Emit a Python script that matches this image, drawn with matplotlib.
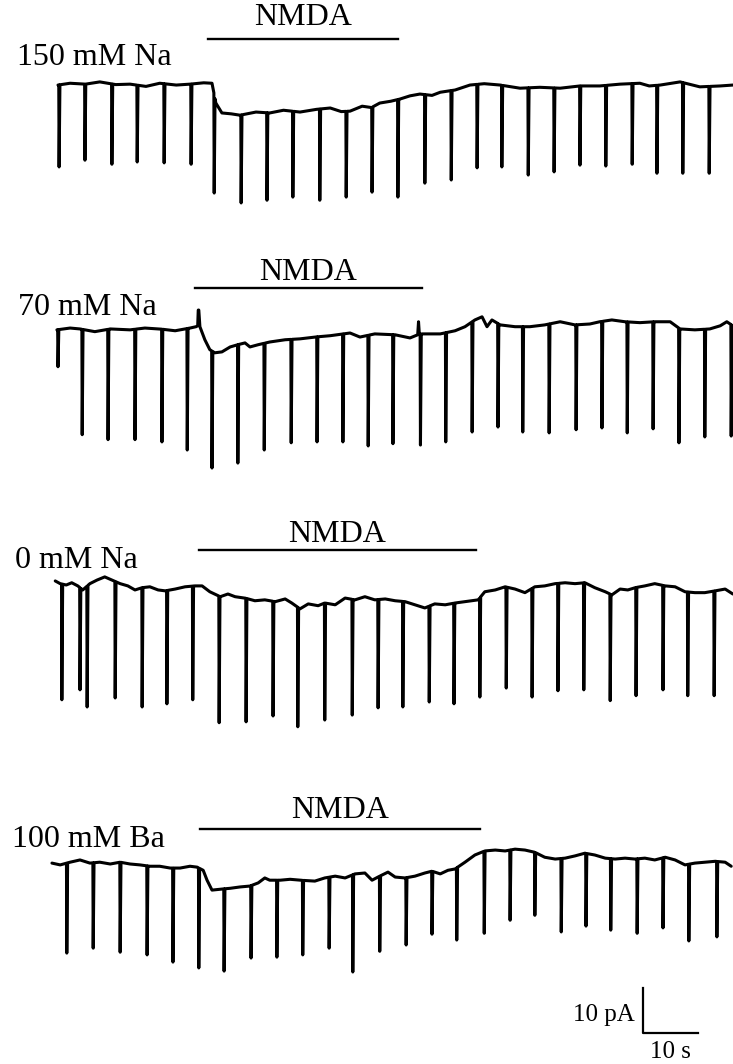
import numpy as np
import matplotlib.pyplot as plt

# whole-cell currents, time in s, current in pA (relative to each trace's starting level)
# slow holding current
na150_t = [0, 2.2, 5.0, 7.6, 10.5, 13.1, 16.0, 18.5, 21.5, 24.0, 26.5, 28.0, 28.7, 29.8, 31.5, 33.1, 36.0,
           38.5, 41.0, 44.0, 47.0, 49.5, 51.5, 53.1, 55.3, 57.0, 58.5, 60.5, 62.2, 64.0, 65.8, 68.0, 69.5,
           72.2, 74.9, 77.5, 80.4, 84.0, 87.6, 91.3, 94.9, 98.5, 102.2, 105.8, 107.5, 109.5, 113.1, 116.7,
           120.4, 122.7]
na150_i = [0, 0.4, 0.2, 0.7, 0.1, 0.2, -0.3, 0.4, 0.0, 0.2, 0.5, 0.4, -4.0, -6.2, -6.4, -6.7, -6.0,
           -6.2, -5.6, -6.0, -5.4, -5.1, -5.9, -5.8, -4.7, -5.0, -4.0, -3.6, -3.1, -2.4, -2.0, -2.3, -1.6,
           -1.1, 0.0, 0.3, 0.0, -0.7, -0.5, -0.7, -0.2, -0.2, 0.2, 0.4, -0.2, 0.0, 0.7, -0.4, -0.2, 0.0]
# fast inward events
na150_spk_t = [0.2, 4.9, 9.8, 14.4, 19.3, 24.2, 28.4, 33.3, 38.0, 42.7, 47.6, 52.4, 57.1, 61.8, 66.7,
               71.5, 76.2, 80.7, 85.5, 90.2, 94.9, 99.6, 104.4, 108.9, 113.6, 118.4]
na150_spk_i = [-18.2, -16.7, -17.6, -17.1, -17.3, -17.6, -24.0, -26.2, -25.6, -24.9, -25.6, -24.9, -23.8,
               -24.9, -21.8, -21.1, -18.4, -18.2, -20.0, -19.3, -17.8, -18.0, -17.6, -19.6, -19.6, -19.6]

na70_t = [-0.2, 2.2, 4.0, 6.7, 9.5, 13.1, 15.8, 18.5, 21.3, 24.0, 25.1, 25.4, 25.5, 25.6, 25.8, 26.7,
          27.6, 28.5, 29.8, 31.3, 32.7, 34.0, 34.9, 36.4, 38.5, 41.3, 44.0, 46.7, 49.5, 53.1, 54.9, 57.6,
          61.3, 64.0, 65.4, 65.55, 65.7, 66.2, 69.5, 72.2, 74.0, 75.8, 77.1, 78.0, 78.9, 80.4, 83.1, 85.8,
          88.5, 91.3, 94.0, 96.7, 98.5, 100.7, 103.1, 105.8, 108.5, 111.3, 113.1, 115.8, 118.5, 120.4,
          121.6, 122.7]
na70_i = [0, 0.4, 0.2, -0.4, 0.2, 0, 0.4, 0.2, -0.2, 0.4, 0.7, 0.9, 4.4, 4.4, 0.7, -2.2,
          -4.4, -5.1, -4.9, -3.8, -3.3, -2.9, -3.8, -3.3, -2.7, -2.2, -2.0, -1.6, -1.3, -0.7, -1.6, -0.9,
          -1.1, -1.8, -1.1, 1.8, -1.0, -0.9, -0.9, -0.2, 0.7, 2.2, 2.9, 0.7, 2.2, 1.1, 0.7, 0.7,
          1.1, 1.8, 1.1, 1.3, 1.8, 2.2, 1.8, 1.6, 1.8, 1.8, 0.2, 0, 0.2, 0.9,
          1.8, 0.9]
na70_spk_t = [0.0, 4.4, 9.1, 14.0, 18.9, 23.5, 28.0, 32.7, 37.5, 42.4, 47.1, 51.8, 56.4, 60.9, 65.9,
              70.5, 75.3, 80.0, 84.5, 89.3, 94.2, 98.9, 103.5, 108.2, 112.9, 117.6, 122.4]
na70_spk_i = [-8.2, -23.3, -24.4, -24.4, -24.9, -26.7, -30.7, -29.6, -26.7, -25.1, -24.9, -24.9, -25.8,
              -25.3, -25.6, -24.9, -22.7, -21.6, -22.7, -22.9, -22.2, -21.8, -22.9, -22.0, -25.1, -23.8,
              -23.6]

na0_t = [-0.5, 0.4, 1.5, 2.5, 3.6, 4.5, 5.8, 7.1, 8.5, 9.8, 11.3, 12.7, 14.0, 15.3, 16.7, 18.2, 19.5,
         21.3, 23.1, 24.9, 26.2, 27.6, 29.5, 30.9, 32.2, 34.0, 35.8, 37.6, 39.5, 41.3, 42.5, 44.0, 45.5,
         47.3, 48.5, 50.4, 52.2, 54.0, 55.8, 57.6, 59.5, 61.3, 63.1, 64.9, 66.7, 68.5, 70.4, 72.2, 74.0,
         76.4, 77.6, 79.5, 81.3, 83.1, 84.9, 86.7, 88.5, 90.4, 92.2, 94.0, 95.8, 97.6, 99.5, 100.7, 102.2,
         103.6, 104.9, 106.7, 108.5, 110.4, 112.2, 114.0, 115.8, 117.6, 119.5, 121.3, 122.7]
na0_i = [0.2, -0.4, -0.7, -0.2, -0.9, -1.8, -0.4, 0.4, 1.1, 0.4, -0.4, -0.9, -1.8, -1.3, -1.1, -1.8, -2.0,
         -1.6, -1.1, -0.9, -0.9, -2.2, -3.3, -2.7, -3.3, -3.6, -4.2, -4.0, -4.4, -3.8, -4.7, -6.0, -4.9,
         -5.3, -4.7, -5.1, -3.6, -4.0, -3.3, -4.0, -3.8, -4.2, -4.4, -5.1, -5.8, -4.9, -5.1, -4.7, -4.4,
         -4.0, -2.2, -1.8, -1.1, -1.6, -2.4, -1.1, -0.9, -0.4, -0.2, -0.4, -0.2, -1.3, -2.2, -2.9, -1.6,
         -1.8, -1.3, -0.9, -0.4, -0.9, -1.1, -2.2, -2.4, -2.4, -2.0, -1.6, -2.7]
na0_spk_t = [0.7, 4.0, 5.3, 10.4, 15.3, 19.8, 24.5, 29.3, 34.2, 39.1, 43.6, 48.5, 53.5, 58.2, 62.7, 67.5,
             72.0, 76.7, 81.5, 86.2, 90.9, 95.6, 100.4, 105.1, 110.0, 114.5, 119.3]
na0_spk_i = [-26.2, -24.0, -27.8, -25.8, -27.8, -27.1, -26.2, -31.3, -31.1, -29.8, -32.2, -30.7, -29.6,
             -28.0, -27.8, -26.7, -27.1, -25.6, -23.6, -25.6, -24.2, -24.0, -26.4, -25.3, -24.0, -25.3,
             -25.3]

ba100_t = [-1.1, 0.4, 2.2, 4.0, 5.8, 7.6, 9.5, 11.3, 13.1, 14.9, 16.7, 18.5, 20.4, 22.2, 24.0, 25.3, 26.4,
           27.1, 28.0, 29.5, 31.3, 33.1, 34.9, 36.4, 37.6, 38.5, 40.4, 42.2, 44.0, 46.7, 48.5, 50.4, 52.2,
           54.0, 55.8, 57.1, 58.5, 60.0, 61.3, 63.1, 64.9, 66.7, 68.0, 69.5, 70.9, 72.2, 74.0, 75.8, 77.6,
           79.5, 81.3, 83.1, 84.9, 86.7, 88.5, 90.4, 92.2, 94.0, 95.8, 97.6, 99.5, 101.3, 103.1, 104.9,
           106.7, 108.5, 110.4, 112.2, 114.0, 115.8, 117.6, 119.5, 121.3, 122.4]
ba100_i = [0, -0.4, 0.2, 0.7, 0, 0.2, -0.2, 0.2, -0.2, -0.4, -0.7, -0.7, -1.1, -1.1, -0.7, -0.9, -1.6,
           -3.8, -6.0, -5.8, -5.6, -5.3, -5.1, -4.4, -3.3, -3.8, -3.8, -3.6, -3.8, -4.0, -3.3, -2.9, -3.3,
           -2.4, -2.2, -3.8, -2.9, -2.0, -3.1, -3.3, -2.9, -2.2, -1.8, -2.4, -1.6, -1.3, 0.2, 1.8, 2.7,
           2.9, 2.7, 3.1, 2.9, 2.4, 1.3, 0.9, 1.1, 1.6, 2.2, 1.8, 1.1, 0.9, 1.1, 0.9,
           1.1, 0.7, 1.3, 0.7, -0.4, 0, 0.2, 0.4, 0.2, -0.7]
ba100_spk_t = [1.6, 6.4, 11.3, 16.2, 20.9, 25.6, 30.2, 35.1, 39.8, 44.5, 49.3, 53.6, 58.5, 63.3, 68.0,
               72.5, 77.5, 82.2, 86.7, 91.5, 96.0, 100.5, 105.3, 110.0, 114.7, 119.8]
ba100_spk_i = [-20.0, -18.9, -19.8, -20.4, -22.0, -23.3, -24.0, -21.1, -20.9, -20.4, -18.9, -24.2, -19.6,
               -18.2, -15.8, -17.1, -15.6, -12.7, -11.6, -15.3, -14.0, -14.9, -15.6, -14.4, -17.3, -16.4]

labels = ['150 mM Na', '70 mM Na', '0 mM Na', '100 mM Ba']
nmda_on = [27.3, 24.9, 25.6, 25.8]
nmda_off = [61.8, 66.2, 76.0, 76.7]

traces = [(na150_t, na150_i, na150_spk_t, na150_spk_i),
          (na70_t, na70_i, na70_spk_t, na70_spk_i),
          (na0_t, na0_i, na0_spk_t, na0_spk_i),
          (ba100_t, ba100_i, ba100_spk_t, ba100_spk_i)]

# vertical layout of the four sweeps (pA from top of page)
offsets = [-18.9, -73.3, -129.3, -191.8]
bar_gap = [10.2, 9.3, 7.1, 7.6]
text_gap = [3.1, 1.8, 1.8, 2.4]
label_x = [-7.45, -7.3, -7.8, -8.4]
label_dy = [4.4, 3.3, 3.1, 3.6]

PRE, POST = 0.06, 0.15  # event rise / decay half-widths, s


def build_sweep(bt, bi, st, si):
    bt = np.asarray(bt, float)
    bi = np.asarray(bi, float)
    keep = np.ones(len(bt), bool)
    for s in st:
        keep &= ~((bt > s - PRE) & (bt < s + POST))
    t = list(bt[keep])
    v = list(bi[keep])
    for s, amp in zip(st, si):
        for dt in (-PRE, POST):
            t.append(s + dt)
            v.append(np.interp(s + dt, bt, bi))
        t.append(s)
        v.append(amp)
    order = np.argsort(t)
    return np.array(t)[order], np.array(v)[order]


serif = ['Liberation Serif', 'DejaVu Serif']
fig = plt.figure(figsize=(7.33, 10.64), dpi=100)
ax = fig.add_axes([0, 0, 1, 1])
ax.set_xlim(-58 / 5.5, 675 / 5.5)
ax.set_ylim(-1064 / 4.5, 0)
ax.axis('off')

for k, (bt, bi, st, si) in enumerate(traces):
    t, v = build_sweep(bt, bi, st, si)
    y0 = offsets[k]
    ax.plot(t, v + y0, color='black', lw=2.2, solid_joinstyle='round', solid_capstyle='round')
    yb = y0 + bar_gap[k]
    ax.plot([nmda_on[k], nmda_off[k]], [yb, yb], color='black', lw=1.7)
    ax.text((nmda_on[k] + nmda_off[k]) / 2, yb + text_gap[k], 'NMDA', ha='center', va='baseline',
            fontsize=23, family=serif)
    ax.text(label_x[k], y0 + label_dy[k], labels[k], ha='left', va='baseline', fontsize=23, family=serif)

# scale bar: 10 pA, 10 s
sx, sy = 106.4, -229.6
ax.plot([sx, sx, sx + 10], [sy + 10, sy, sy], color='black', lw=1.6)
ax.text(sx - 1.5, sy + 2.8, '10 pA', ha='right', va='baseline', fontsize=18, family=serif)
ax.text(sx + 5, -1063 / 4.5, '10 s', ha='center', va='bottom', fontsize=18, family=serif)

fig.savefig('out.png', dpi=100)
